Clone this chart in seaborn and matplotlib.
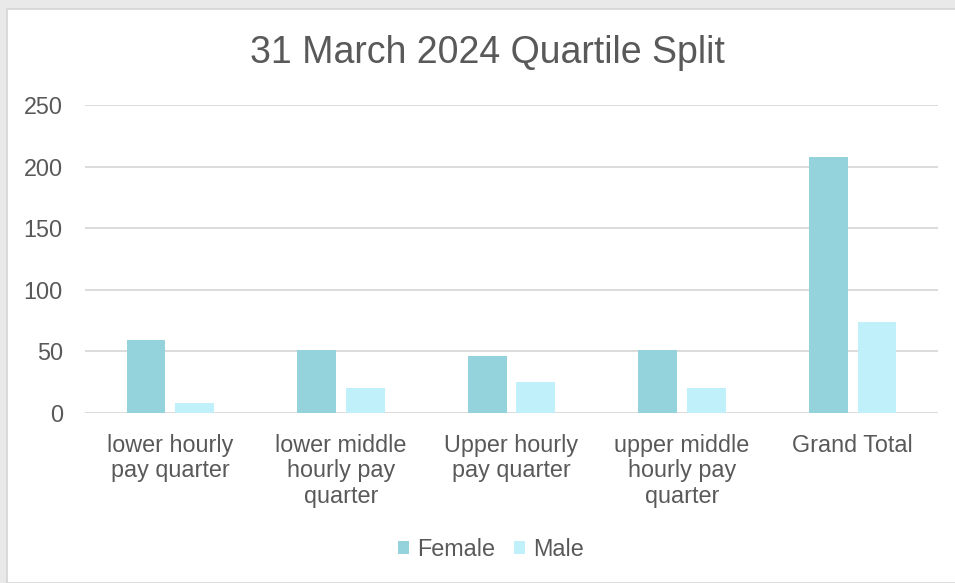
"""Recreate the 31 March 2024 quartile split bar chart."""

import matplotlib.pyplot as plt
import pandas as pd
import seaborn as sns
from matplotlib.patches import Rectangle

CATEGORIES = [
    "lower hourly pay quarter",
    "lower middle hourly pay quarter",
    "Upper hourly pay quarter",
    "upper middle hourly pay quarter",
    "Grand Total",
]
TICK_LABELS = [
    "lower hourly\npay quarter",
    "lower middle\nhourly pay\nquarter",
    "Upper hourly\npay quarter",
    "upper middle\nhourly pay\nquarter",
    "Grand Total",
]
FEMALE = [59, 51, 46, 51, 208]
MALE = [8, 20, 25, 20, 74]
SERIES = ["Female", "Male"]
COLORS = {"Female": "#94D3DC", "Male": "#C0F0FA"}
Y_TICKS = [0, 50, 100, 150, 200, 250]

TEXT_COLOR = "#595959"
GRID_COLOR = "#D9D9D9"
W, H = 955, 583


def main() -> None:
    sns.set_theme(style="white")
    plt.rcParams["font.family"] = ["Liberation Sans", "DejaVu Sans"]

    df = pd.DataFrame(
        {
            "category": CATEGORIES * 2,
            "sex": ["Female"] * len(CATEGORIES) + ["Male"] * len(CATEGORIES),
            "count": FEMALE + MALE,
        }
    )

    fig = plt.figure(figsize=(W / 100, H / 100), dpi=100, facecolor="#E9E9E9")
    # white chart frame, kept behind the axes
    fig.patches.append(
        Rectangle((7 / W, 0), 1, 1 - 9 / H, transform=fig.transFigure,
                  facecolor="white", edgecolor="#D4D4D4", linewidth=1.2, zorder=-5)
    )

    ax = fig.add_axes([85 / W, 1 - 413 / H, (938 - 85) / W, (413 - 105) / H])
    ax.set_zorder(2)
    ax.set_facecolor("none")
    sns.barplot(
        data=df, x="category", y="count", hue="sex", order=CATEGORIES,
        hue_order=SERIES, palette=COLORS, width=0.57, gap=0.2,
        saturation=1, edgecolor="none", ax=ax,
    )

    ax.set_ylim(0, 250)
    ax.set_yticks(Y_TICKS)
    ax.set_xticks(range(len(CATEGORIES)))
    ax.set_xticklabels(TICK_LABELS, linespacing=1.13)
    ax.set_xlabel("")
    ax.set_ylabel("")
    for s in ax.spines.values():
        s.set_visible(False)
    ax.yaxis.grid(True, color=GRID_COLOR, linewidth=1.3)
    ax.set_axisbelow(True)
    ax.tick_params(axis="y", length=0, pad=16, labelsize=16.8, labelcolor=TEXT_COLOR)
    ax.tick_params(axis="x", length=0, pad=15, labelsize=16.8, labelcolor=TEXT_COLOR)

    handles, labels = ax.get_legend_handles_labels()
    ax.legend(
        handles, labels, loc="center", bbox_to_anchor=(491 / W, 1 - 549 / H),
        bbox_transform=fig.transFigure, ncol=2, frameon=False, fontsize=16.8,
        labelcolor=TEXT_COLOR, handlelength=0.47, handleheight=0.47,
        handletextpad=0.34, columnspacing=0.8,
    )

    fig.text(487.5 / W, 1 - 63 / H, "31 March 2024 Quartile Split",
             ha="center", va="baseline", fontsize=27, color=TEXT_COLOR)

    fig.savefig("out.png", dpi=100, facecolor=fig.get_facecolor())
    plt.close(fig)


if __name__ == "__main__":
    main()
